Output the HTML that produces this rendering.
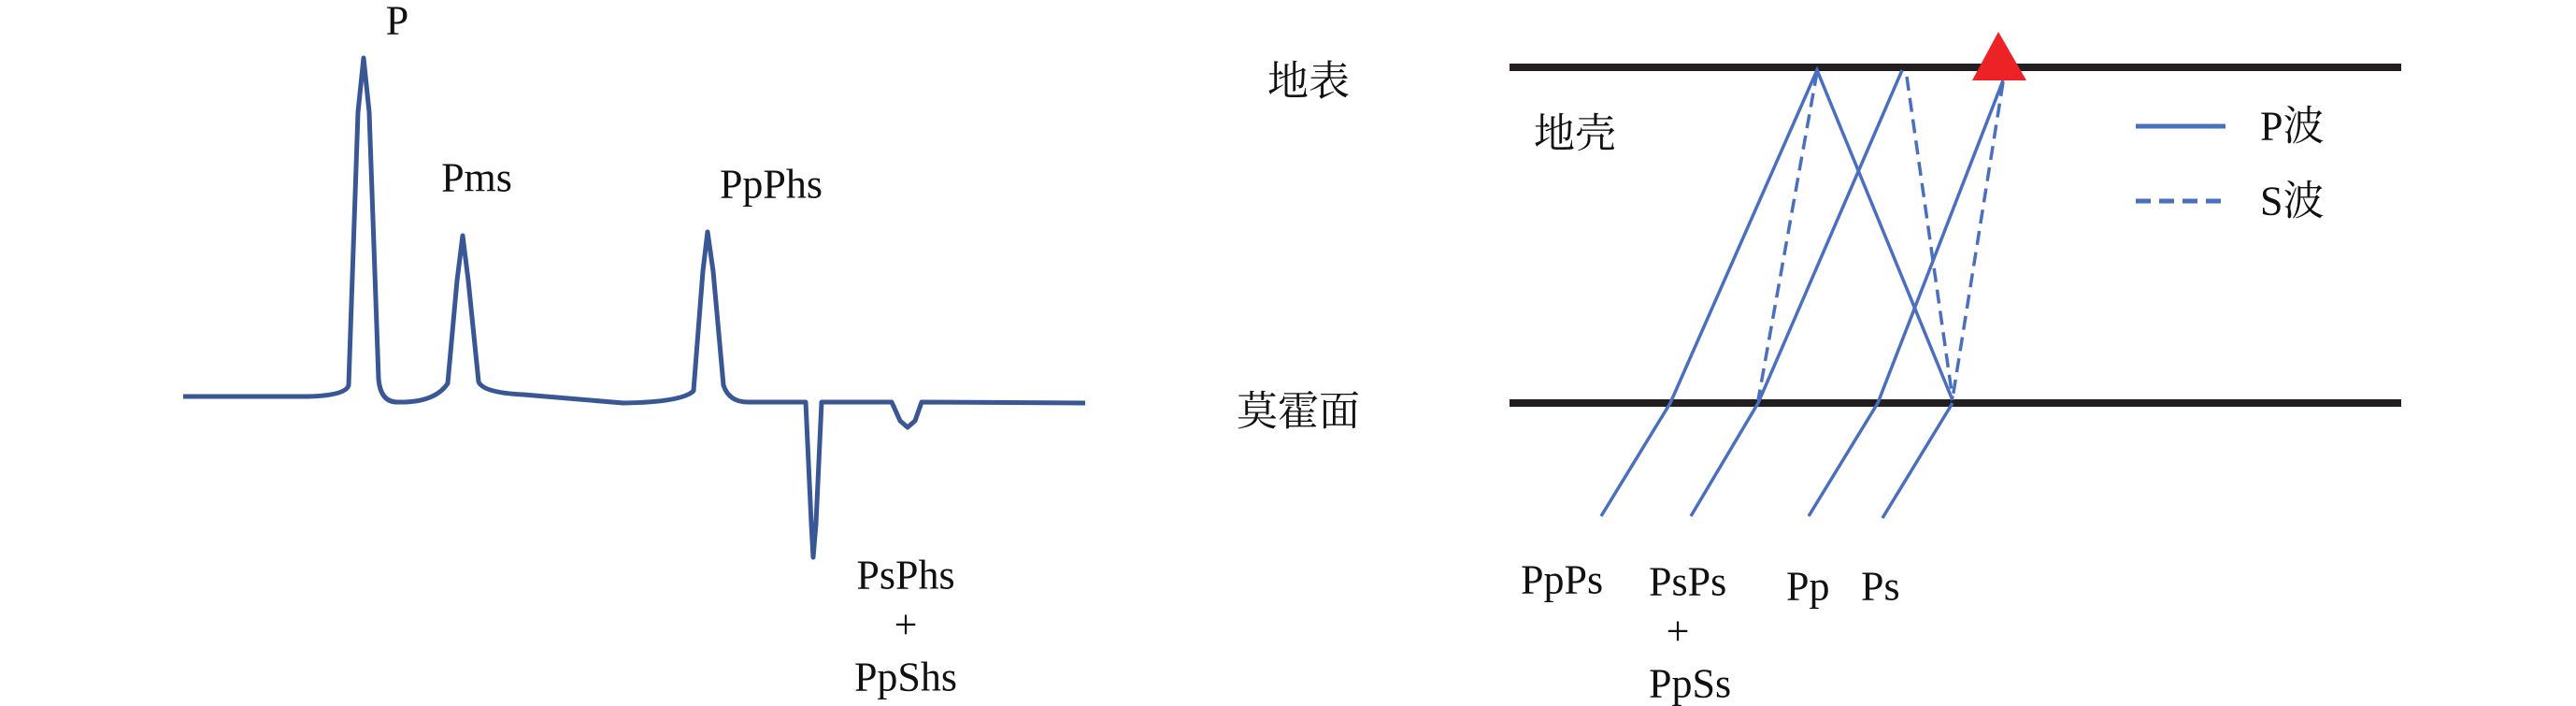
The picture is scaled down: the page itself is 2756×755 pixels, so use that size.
<!DOCTYPE html>
<html><head><meta charset="utf-8"><style>
html,body{margin:0;padding:0;background:#fff;}
svg{display:block;}
text{font-family:"Liberation Serif","Noto Serif CJK SC",serif;fill:#111;}
</style></head><body>
<svg width="2756" height="755" viewBox="0 0 2756 755" xmlns="http://www.w3.org/2000/svg">
<!-- left trace -->
<path d="M196,424 L330,424 Q370,423 373,412 L383,120 L389,62 L395,120 L405,405 Q407,430 425,430 Q465,431 479,410 L489,300 L495,252 L501,300 L512,408 Q516,420 560,422 L667,431 Q730,430 742,418 L752,290 L757,248 L763,290 L774,412 Q780,430 800,430 L858,430 L862,430 L868,560 L870,596 L873,560 L879,430 L954,430 L963,450 L971,457 L979,450 L986,430 L1161,431" fill="none" stroke="#3a5795" stroke-width="5" stroke-linejoin="round"/>
<g font-size="44" text-anchor="middle" dominant-baseline="central">
<text x="425" y="22">P</text>
<text x="510" y="190">Pms</text>
<text x="825" y="197">PpPhs</text>
<text x="969" y="615">PsPhs</text>
<text x="969" y="668">+</text>
<text x="969" y="724">PpShs</text>
</g>
<!-- right diagram -->
<line x1="1615" y1="72" x2="2569" y2="72" stroke="#231f20" stroke-width="8"/>
<line x1="1615" y1="431" x2="2569" y2="431" stroke="#231f20" stroke-width="8"/>
<g stroke="#4a6fbf" stroke-width="3.5" fill="none">
<polyline points="1713,552 1787,431 1944,75 2089,428"/>
<polyline points="1809,552 1881,431 2035,75"/>
<polyline points="1935,552 2009,431 2143,86"/>
<line x1="2014" y1="554" x2="2089" y2="431"/>
<g stroke-dasharray="15,8">
<line x1="1944" y1="77" x2="1881" y2="428"/>
<line x1="2040" y1="82" x2="2089" y2="426"/>
<line x1="2143" y1="88" x2="2089" y2="426"/>
</g>
<line x1="2285" y1="135" x2="2381" y2="135" stroke-width="5"/>
<line x1="2285" y1="215" x2="2381" y2="215" stroke-width="5" stroke-dasharray="16,9"/>
</g>
<polygon points="2138,34 2110,86 2168,86" fill="#ec2227"/>
<g font-size="44" dominant-baseline="central">
<text x="1356" y="87">地表</text>
<text x="1641" y="143">地壳</text>
<text x="1323" y="440">莫霍面</text>
<text x="2418" y="135">P波</text>
<text x="2418" y="215">S波</text>
<text x="1627" y="620">PpPs</text>
<text x="1764" y="622">PsPs</text>
<text x="1795" y="675" text-anchor="middle">+</text>
<text x="1764" y="731">PpSs</text>
<text x="1911" y="627">Pp</text>
<text x="1991" y="627">Ps</text>
</g>
</svg>
</body></html>
